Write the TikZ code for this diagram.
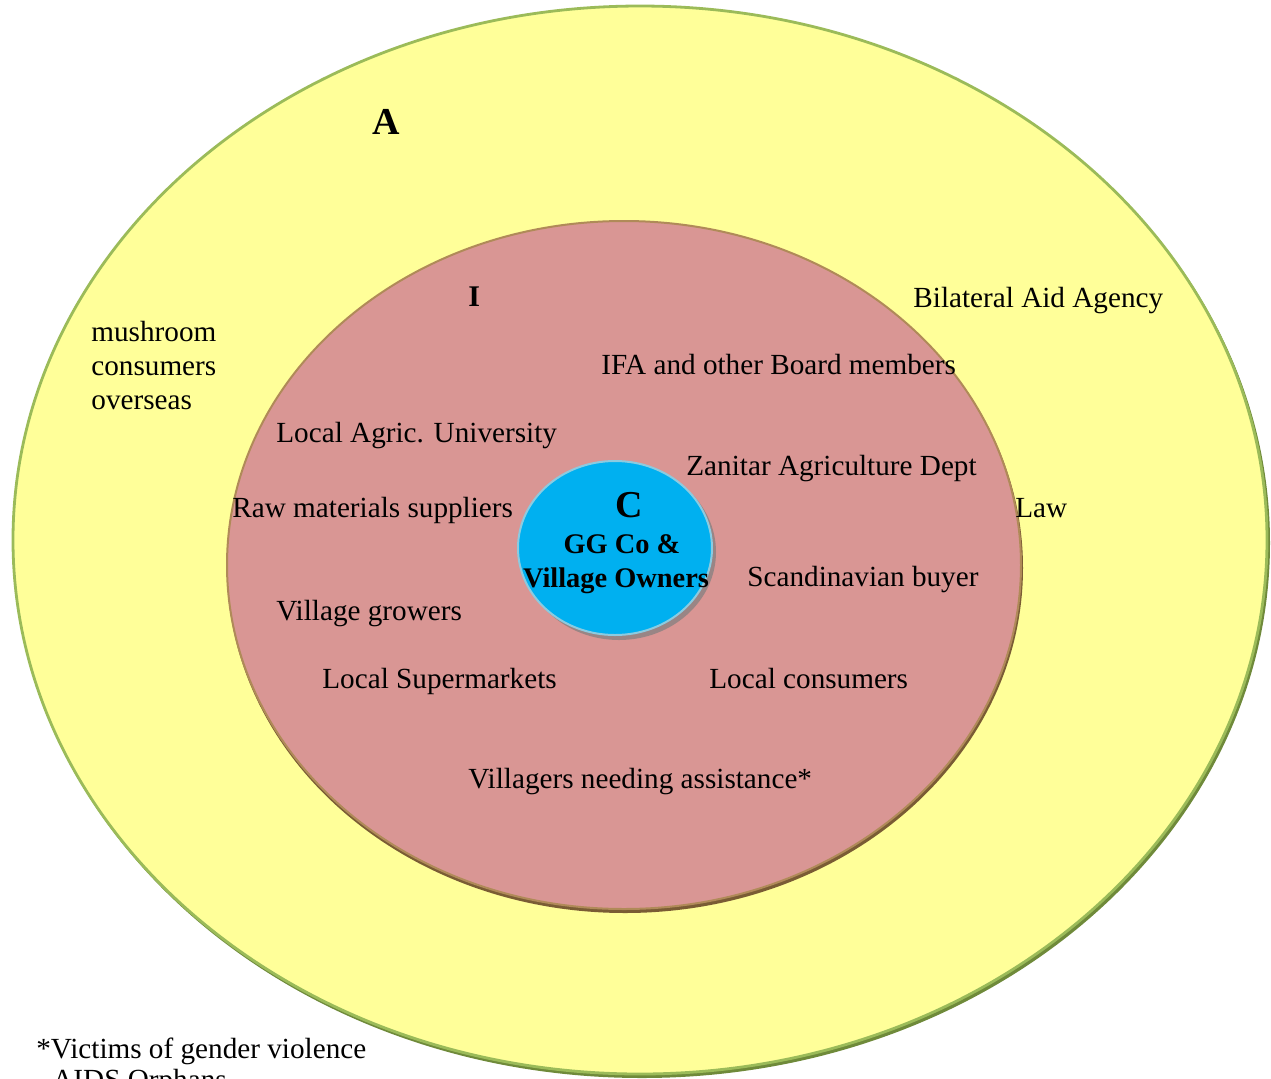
\documentclass[tikz,border=0pt]{standalone}
\usepackage{fontspec}
\setmainfont{Liberation Serif}
\definecolor{outerfill}{HTML}{FFFF99}
\definecolor{outerline}{HTML}{9BBB59}
\definecolor{outershade}{HTML}{6F8A3A}
\definecolor{innerfill}{HTML}{D99694}
\definecolor{innerline}{HTML}{B08A58}
\definecolor{innershade}{HTML}{7A5C34}
\definecolor{corefill}{HTML}{00B0F0}
\definecolor{coreline}{HTML}{8CCBE0}
\definecolor{coreshade}{HTML}{7F7F7F}
\begin{document}
\begin{tikzpicture}[x=0.5pt,y=-0.5pt,
  lbl/.style={anchor=base west,inner sep=0pt,font=\fontsize{14.6}{17}\selectfont},
  ring/.style={font=\bfseries\fontsize{19}{20}\selectfont,anchor=base west,inner sep=0pt},
  ringI/.style={font=\bfseries\fontsize{15}{17}\selectfont,anchor=base west,inner sep=0pt}]
\useasboundingbox (0,0) rectangle (1271,1078);
\begin{scope}
\clip (0,0) rectangle (1271,1078);
% outer ring (A)
\fill[outershade] (642,543) ellipse [x radius=628, y radius=535];
\draw[outerline,fill=outerfill,line width=1.4pt] (640,540) ellipse [x radius=627, y radius=534];
% middle ring (I)
\fill[innershade] (625,568) ellipse [x radius=398, y radius=345];
\draw[innerline,fill=innerfill,line width=1pt] (624,565) ellipse [x radius=397, y radius=344];
% core (C)
\fill[coreshade,opacity=0.7] (619,552) ellipse [x radius=97, y radius=88];
\draw[coreline,fill=corefill,line width=1pt] (615,548) ellipse [x radius=97, y radius=87];
% footnote
\node[lbl] (fn1) at (36,1058) {*Victims of gender violence};
\node[lbl] (fn2) at (52,1089) {AIDS Orphans};
\end{scope}
% ring labels
\node[ring] (ringA) at (372,134) {A};
\node[ringI] (ringI) at (468,306) {I};
\node[ring] (ringC) at (615,517) {C};
\node[anchor=base,inner sep=0pt,font=\bfseries\fontsize{14.2}{17}\selectfont] (core1) at (622,553) {GG Co \&};
\node[anchor=base,inner sep=0pt,font=\bfseries\fontsize{14.2}{17}\selectfont] (core2) at (616,587) {Village Owners};
% outer ring stakeholders
\node[lbl,align=left,anchor=north west] (overseas) at (91,321) {mushroom\\consumers\\overseas};
\node[lbl] (aid) at (913,307) {Bilateral Aid Agency};
\node[lbl] (law) at (1015,517) {Law};
% middle ring stakeholders
\node[lbl] (ifa) at (601,374) {IFA and other Board members};
\node[lbl] (univ) at (276,442) {Local Agric. University};
\node[lbl] (zan) at (686,475) {Zanitar Agriculture Dept};
\node[lbl] (raw) at (232,517) {Raw materials suppliers};
\node[lbl] (scand) at (747,586) {Scandinavian buyer};
\node[lbl] (grow) at (276,620) {Village growers};
\node[lbl] (super) at (322,688) {Local Supermarkets};
\node[lbl] (cons) at (709,688) {Local consumers};
\node[lbl] (need) at (468,788) {Villagers needing assistance*};
\end{tikzpicture}
\end{document}
